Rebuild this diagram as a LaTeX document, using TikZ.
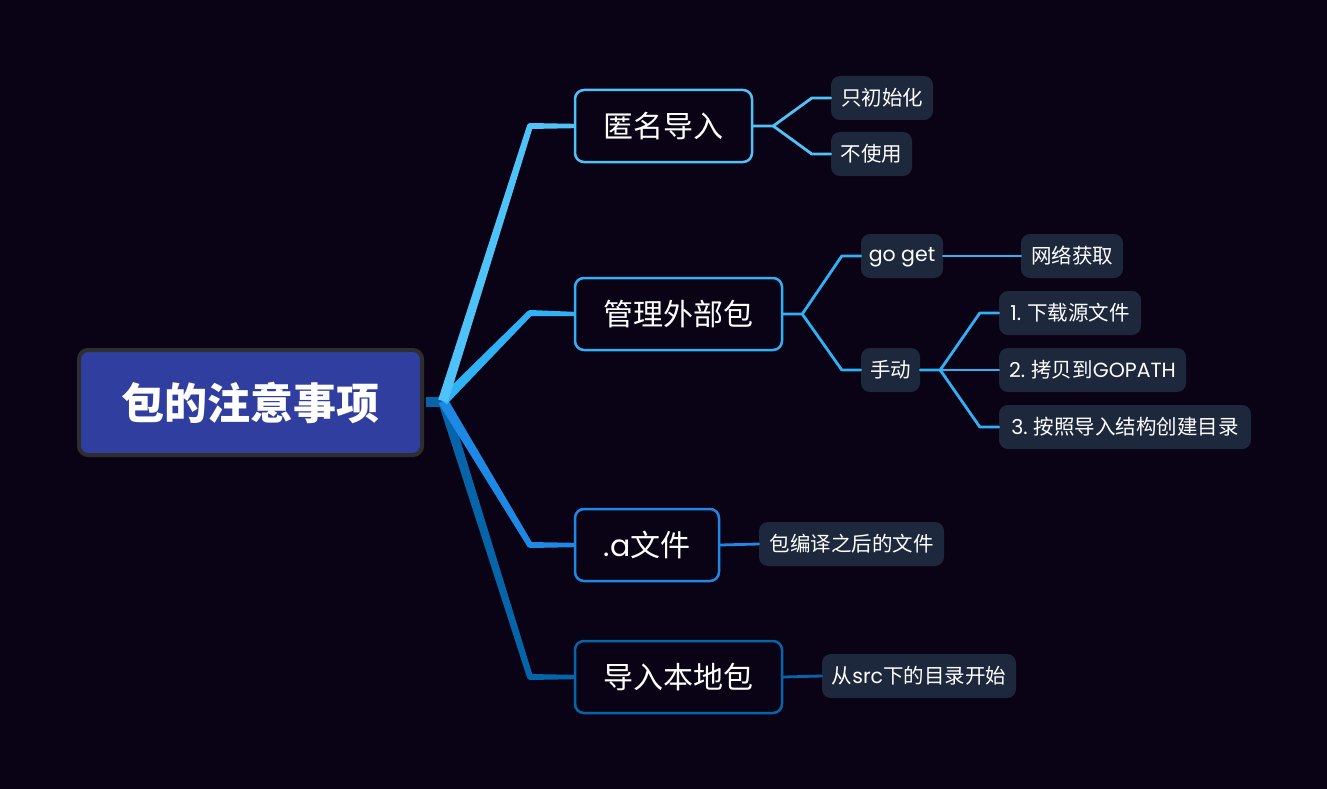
\documentclass[tikz,border=0pt]{standalone}
\usepackage{fontspec}
\setmainfont{Noto Sans CJK SC}
\newfontfamily\lat{Poppins}
\usetikzlibrary{calc}
\definecolor{bg}{HTML}{0A0316}
\definecolor{rootfill}{HTML}{303F9F}
\definecolor{rootborder}{HTML}{2E2E2E}
\definecolor{cA}{HTML}{4FC3F7}
\definecolor{cB}{HTML}{2FB1F6}
\definecolor{cC}{HTML}{1E88E5}
\definecolor{cD}{HTML}{0565A8}
\definecolor{leaf}{HTML}{1E283C}
\newcommand\mybranch[3]{%
  \fill[#1] ($(S)!5pt!90:(#2)$) -- ($(#2)!3pt!-90:(S)$) -- ($(#2)!3pt!90:(S)$) -- ($(S)!5pt!-90:(#2)$) -- cycle;
  \fill[#1] ($(#2)+(0,-3)$) -- ($(#3.west)+(0,-2.2)$) -- ($(#3.west)+(0,2.2)$) -- ($(#2)+(0,3)$) -- cycle;
  \fill[#1] (#2) circle (3);
}
\begin{document}
\begin{tikzpicture}[x=1pt,y=-1pt,
  rootbox/.style={draw=rootborder,line width=4pt,fill=rootfill,rounded corners=9pt,
    minimum width=343pt,minimum height=105pt,inner sep=0pt,text=white,
    font=\fontsize{43}{48}\selectfont\bfseries},
  mainbox/.style={draw=#1,line width=2.5pt,fill=bg,rounded corners=9pt,
    minimum height=72pt,inner sep=0pt,text=white,font=\fontsize{30}{34}\selectfont},
  leafbox/.style={fill=leaf,rounded corners=9pt,minimum height=44pt,inner sep=0pt,
    text=white,font=\fontsize{20.5}{24}\selectfont},
  link/.style={draw=#1,line width=2.8pt,line join=round,line cap=round}]
\fill[bg] (0,0) rectangle (1327,789);
\useasboundingbox (0,0) rectangle (1327,789);

% root and main branches
\node[rootbox] (root) at (250.5,402.5) {包的注意事项};
\node[mainbox=cA,minimum width=177pt] (n1) at (663.5,126) {匿名导入};
\node[mainbox=cB,minimum width=207pt] (n2) at (678.5,314) {管理外部包};
\node[mainbox=cC,minimum width=144pt] (n3) at (647,545) {{\lat .a}文件};
\node[mainbox=cD,minimum width=207pt] (n4) at (678.5,677) {导入本地包};

% leaves
\node[leafbox,minimum width=102pt] (l11) at (882,98) {只初始化};
\node[leafbox,minimum width=81pt] (l12) at (871.5,154) {不使用};
\node[leafbox,minimum width=82pt,text height=15pt,text depth=4pt] (l21) at (902,256) {\lat go get};
\node[leafbox,minimum width=59pt] (l22) at (890.5,370) {手动};
\node[leafbox,minimum width=102pt] (l211) at (1072,256) {网络获取};
\node[leafbox,minimum width=142pt] (l221) at (1070,313) {{\lat 1.} 下载源文件};
\node[leafbox,minimum width=187pt] (l222) at (1092.5,370) {{\lat 2.} 拷贝到{\lat GOPATH}};
\node[leafbox,minimum width=252pt] (l223) at (1125,427) {{\lat 3.} 按照导入结构创建目录};
\node[leafbox,minimum width=185pt] (l31) at (851.5,544) {包编译之后的文件};
\node[leafbox,minimum width=194pt] (l41) at (919,676) {从{\lat src}下的目录开始};

% root connectors
\coordinate (S) at (443,401);
\coordinate (e1) at (530,126);
\coordinate (e2) at (530,313);
\coordinate (e3) at (530,545);
\coordinate (e4) at (530,677);
\fill[cD] ($(root.east)+(2,-5.5)$) rectangle ($(S)+(0,5.5)$);
\mybranch{cD}{e4}{n4}
\mybranch{cC}{e3}{n3}
\mybranch{cB}{e2}{n2}
\mybranch{cA}{e1}{n1}

% leaf connectors
\draw[link=cA] (n1.east) -- ++(20,0) coordinate (j1) -- ($(l11.west)+(-19,0)$) -- (l11.west);
\draw[link=cA] (j1) -- ($(l12.west)+(-19,0)$) -- (l12.west);
\draw[link=cB] (n2.east) -- ++(19,0) coordinate (j2) -- ($(l21.west)+(-19,0)$) -- (l21.west);
\draw[link=cB] (j2) -- ($(l22.west)+(-19,0)$) -- (l22.west);
\draw[link=cB] (l21.east) -- (l211.west);
\draw[link=cB] (l22.east) -- ++(20,0) coordinate (j3) -- ($(l221.west)+(-19,0)$) -- (l221.west);
\draw[link=cB] (j3) -- (l222.west);
\draw[link=cB] (j3) -- ($(l223.west)+(-19,0)$) -- (l223.west);
\draw[link=cC] (n3.east) -- (l31.west);
\draw[link=cD] (n4.east) -- (l41.west);
\end{tikzpicture}
\end{document}
